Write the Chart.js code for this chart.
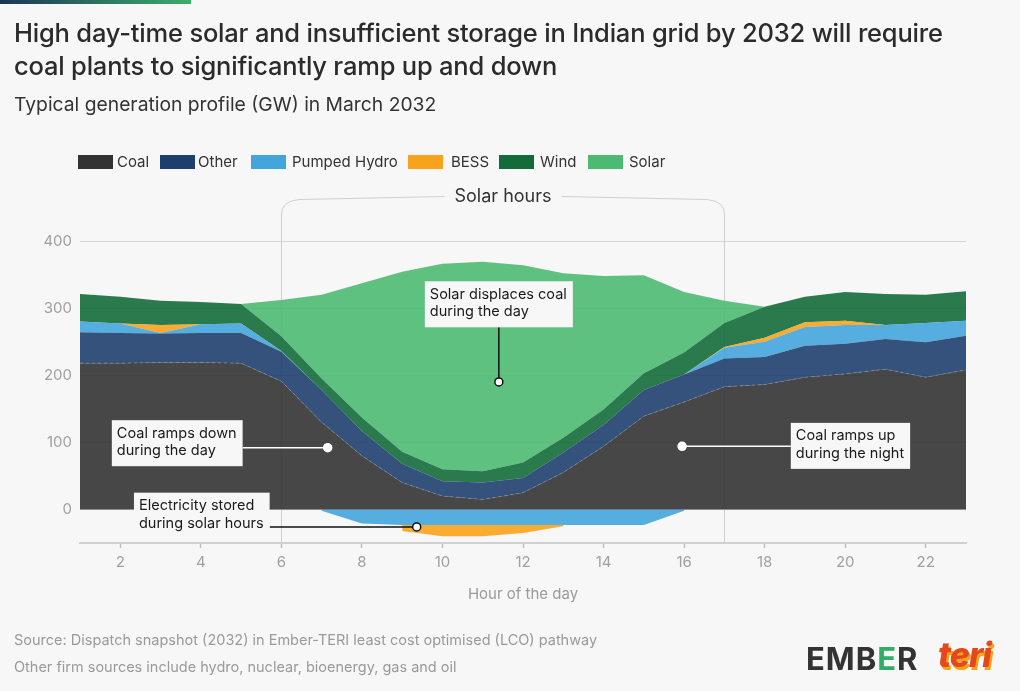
<!DOCTYPE html>
<html><head><meta charset="utf-8">
<script src="https://cdn.jsdelivr.net/npm/chart.js@4.4.0/dist/chart.umd.min.js"></script>
<style>
html,body{margin:0;padding:0;background:#f7f7f7;}
body{width:1020px;height:691px;position:relative;overflow:hidden;font-family:Inter,"Noto Sans",sans-serif;color:#333;}
#bar{position:absolute;left:0;top:0;width:191px;height:4px;background:linear-gradient(90deg,#1c3557,#3cae6a);}
#title{position:absolute;left:14px;top:16px;font-size:25.5px;line-height:33px;font-weight:500;color:#2b2b2b;letter-spacing:-0.2px;white-space:nowrap;}
#sub{position:absolute;left:14px;top:93px;font-size:19.3px;line-height:22px;color:#333;white-space:nowrap;}
.sw{position:absolute;top:155px;width:35px;height:14px;}
.lt{position:absolute;top:153px;font-size:15px;line-height:18px;color:#333;white-space:nowrap;}
.foot{position:absolute;left:14px;font-size:14.5px;color:#9a9a9a;white-space:nowrap;}
#ember{position:absolute;left:806px;top:640px;font-size:31px;font-weight:700;color:#333;letter-spacing:1px;}
#ember span{color:#2fae66;}
#teri{position:absolute;left:938px;top:634px;font-size:34px;font-weight:800;font-style:italic;color:#e4481b;text-shadow:2px 3px 0 #f7a21b;letter-spacing:-1px;}
canvas{position:absolute;left:0;top:0;}
</style></head>
<body>
<canvas id="c" width="1020" height="691"></canvas>
<div id="bar"></div>
<div id="title">High day-time solar and insufficient storage in Indian grid by 2032 will require<br>coal plants to significantly ramp up and down</div>
<div id="sub">Typical generation profile (GW) in March 2032</div>
<div id="legend"></div>
<div class="foot" style="top:631px">Source: Dispatch snapshot (2032) in Ember-TERI least cost optimised (LCO) pathway</div>
<div class="foot" style="top:658px">Other firm sources include hydro, nuclear, bioenergy, gas and oil</div>
<div id="ember">EMB<span>E</span>R</div>
<div id="teri">teri</div>
<script>
// ---- data ----
const hours  = [1,2,3,4,5,6,7,8,9,10,11,12,13,14,15,16,17,18,19,20,21,22,23];
const coal   = [218,218,219,219,218,191,130,80,40,20,15,25,55,94,139,160,183,186,197,202,209,197,208];
const other  = [46,45,43,44,45,44,48,37,28,22,25,22,30,32,39,41,42,41,47,45,45,52,51];
const pumped = [16,14,1,13,14,1,-2,-21,-23,-23,-23,-23,-23,-23,-23,-2,16,23,28,28,21,29,22];
const bess   = [0,0,12,0,0,0,0,0,-9,-17,-17,-12,-2,0,0,0,1,6,7,6,0,0,0];
const wind   = [41,40,36,33,29,22,17,20,18,18,17,23,22,23,25,33,36,46,38,43,46,42,44];
const solar  = [0,0,0,0,0,54,125,200,268,306,312,294,245,199,146,90,33,0,0,0,0,0,0];
const xTicks = [2,4,6,8,10,12,14,16,18,20,22];
const yTicks = [0,100,200,300,400];
const seriesNames = ['Coal','Other','Pumped Hydro','BESS','Wind','Solar'];
const seriesColors = ['#333333','#1e3f6e','#42a5dc','#f9a21b','#146b3a','#4cba72'];
const solarHours = [6,17];

// legend
const legendBoxX = [78,160,251,408,499,588];
const legendTextX = [117,198,292,451,540,629];
const lg = document.getElementById('legend');
seriesNames.forEach((n,i)=>{
  const s=document.createElement('div');s.className='sw';s.style.left=legendBoxX[i]+'px';s.style.background=seriesColors[i];lg.appendChild(s);
  const t=document.createElement('div');t.className='lt';t.style.left=legendTextX[i]+'px';t.textContent=n;lg.appendChild(t);
});

function alpha(hex,a){const r=parseInt(hex.substr(1,2),16),g=parseInt(hex.substr(3,2),16),b=parseInt(hex.substr(5,2),16);return `rgba(${r},${g},${b},${a})`;}
const pts = arr => hours.map((h,i)=>({x:h,y:arr[i]}));
const posOnly = arr => arr.map(v=>v>0?v:0);
const negOnly = arr => arr.map(v=>v<0?v:null);

function ds(label,arr,colorIdx,fill,extra){
  return Object.assign({label,data:pts(arr),backgroundColor:alpha(seriesColors[colorIdx],0.9),
    borderWidth:0,pointRadius:0,pointHoverRadius:0,tension:0,fill},extra||{});
}
const datasets = [
  ds('Coal',coal,0,'origin',{borderWidth:0.8,borderColor:'rgba(150,150,150,0.8)',borderDash:[3,3]}),
  ds('Other',other,1,'-1'),
  ds('Pumped Hydro',posOnly(pumped),2,'-1'),
  ds('BESS',posOnly(bess),3,'-1'),
  ds('Wind',wind,4,'-1'),
  ds('Solar',solar,5,'-1'),
  ds('Pumped Hydro (charging)',negOnly(pumped),2,'origin'),
  ds('BESS (charging)',negOnly(bess),3,'-1'),
];

const annotations = [
  {lines:['Solar displaces coal','during the day'], dot:[11.4,190], box:{cx:11.4, top:340}, kind:'up', line:'#111', dotStroke:'#111'},
  {lines:['Coal ramps down','during the day'], dot:[7.15,92], box:{left:1.79, top:133}, kind:'left', line:'#fff', dotStroke:'#fff'},
  {lines:['Coal ramps up','during the night'], dot:[15.95,94], box:{left:18.65, top:129}, kind:'right', line:'#fff', dotStroke:'#fff'},
  {lines:['Electricity stored','during solar hours'], dot:[9.36,-26], box:{left:2.34, top:25}, kind:'left', line:'#111', dotStroke:'#111'},
];

const FONT = 'Inter, "Noto Sans", sans-serif';

const bgPlugin = {
  id:'bg',
  beforeDatasetsDraw(chart){
    const {ctx,chartArea,scales:{x}} = chart;
    ctx.save();
    ctx.strokeStyle='#cfcfcf';ctx.lineWidth=1;
    const xl = Math.round(x.getPixelForValue(solarHours[0]))+0.5;
    const xr = Math.round(x.getPixelForValue(solarHours[1]))+0.5;
    const bottom = chartArea.bottom;
    ctx.font = '18px '+FONT;
    const label='Solar hours';
    const tw = ctx.measureText(label).width;
    const cx = (xl+xr)/2;
    const ty = 197;
    ctx.beginPath();
    ctx.moveTo(xl,bottom);ctx.lineTo(xl,214);
    ctx.quadraticCurveTo(xl,201,xl+18,199.5);
    ctx.lineTo(cx-tw/2-10,196.5);
    ctx.moveTo(xr,bottom);ctx.lineTo(xr,214);
    ctx.quadraticCurveTo(xr,201,xr-18,199.5);
    ctx.lineTo(cx+tw/2+10,196.5);
    ctx.stroke();
    ctx.fillStyle='#333';ctx.textAlign='center';ctx.textBaseline='middle';
    ctx.fillText(label,cx,ty);
    ctx.restore();
  }
};

const annPlugin = {
  id:'ann',
  afterDatasetsDraw(chart){
    const {ctx,scales:{x,y}} = chart;
    ctx.save();
    ctx.font='14.5px '+FONT;
    annotations.forEach(a=>{
      const w = Math.max(...a.lines.map(l=>ctx.measureText(l).width))+11;
      const h = 46;
      const dx = x.getPixelForValue(a.dot[0]), dy = y.getPixelForValue(a.dot[1]);
      let bl, bt = y.getPixelForValue(a.box.top);
      if (a.box.cx!==undefined) bl = x.getPixelForValue(a.box.cx)-w/2; else bl = x.getPixelForValue(a.box.left);
      ctx.strokeStyle=a.line;ctx.lineWidth=1.5;ctx.beginPath();
      if (a.kind==='up'){ctx.moveTo(dx,bt+h);ctx.lineTo(dx,dy);}
      else if (a.kind==='left'){ctx.moveTo(bl+w,dy);ctx.lineTo(dx,dy);}
      else {ctx.moveTo(dx,dy);ctx.lineTo(bl,dy);}
      ctx.stroke();
      ctx.fillStyle='#f7f7f7';ctx.fillRect(bl,bt,w,h);
      ctx.fillStyle='#1a1a1a';ctx.textAlign='left';ctx.textBaseline='middle';
      a.lines.forEach((l,i)=>ctx.fillText(l,bl+5,bt+13+i*17.5));
      ctx.beginPath();ctx.arc(dx,dy,4,0,Math.PI*2);ctx.fillStyle='#fff';ctx.fill();
      ctx.lineWidth=1.5;ctx.strokeStyle=a.dotStroke;ctx.stroke();
    });
    ctx.restore();
  }
};

new Chart(document.getElementById('c'),{
  type:'line',
  data:{datasets},
  options:{
    responsive:false,animation:false,
    layout:{padding:{left:0,right:54,top:241,bottom:78}},
    plugins:{legend:{display:false},tooltip:{enabled:false}},
    scales:{
      x:{type:'linear',min:1,max:23,
        afterBuildTicks:s=>{s.ticks=xTicks.map(v=>({value:v}));},
        afterFit:s=>{s.height=70;},
        grid:{drawOnChartArea:false,drawTicks:true,tickLength:5,tickColor:'#bdbdbd',tickWidth:1.5},
        border:{display:true,color:'#d0d0d0',width:2},
        ticks:{color:'#a0a0a0',font:{family:FONT,size:15},padding:5,maxRotation:0},
        title:{display:true,text:'Hour of the day',color:'#9a9a9a',font:{family:FONT,size:15},padding:{top:0,bottom:10}}
      },
      y:{min:-50,max:400,stacked:true,
        afterBuildTicks:s=>{s.ticks=yTicks.map(v=>({value:v}));},
        afterFit:s=>{s.width=80;},
        grid:{color:'#d5d5d5',lineWidth:1,drawTicks:false},
        border:{display:false},
        ticks:{color:'#a0a0a0',font:{family:FONT,size:15},padding:8}
      }
    }
  },
  plugins:[bgPlugin,annPlugin]
});
</script>
</body></html>
